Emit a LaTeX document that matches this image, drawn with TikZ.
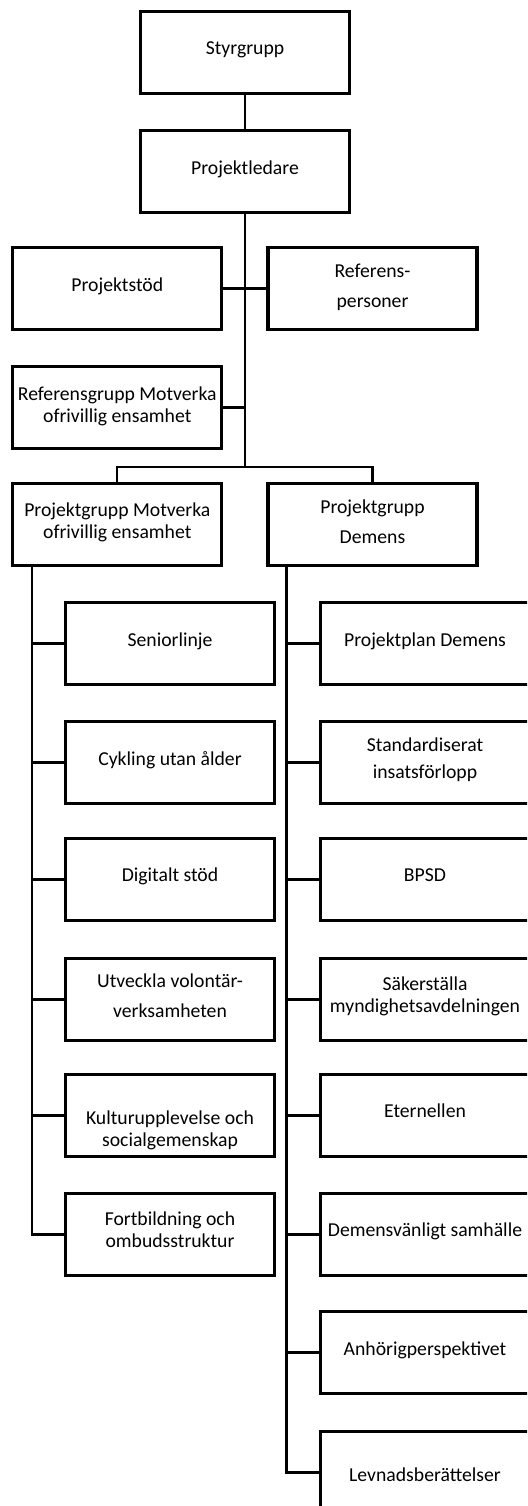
\documentclass[tikz,border=0pt]{standalone}
\usepackage{fontspec}
\setmainfont{Carlito}
\newcommand{\boxtext}[2]{\raisebox{0pt}[\dimexpr10pt+#1pt\relax][\dimexpr10pt-#1pt\relax]{\begin{tabular}[t]{@{}c@{}}#2\end{tabular}}}
\tikzset{
  orgbox/.style={draw=black, line width=3.2pt, minimum width=209pt, minimum height=82pt,
    inner sep=0pt, font=\fontsize{19.7}{22}\selectfont},
  conn/.style={draw=black, line width=2.3pt}
}
\begin{document}
\begin{tikzpicture}[x=1pt,y=-1pt]
\useasboundingbox (0,0) rectangle (527,1506);
\fill[white] (0,0) rectangle (527,1506);
\clip (0,0) rectangle (527,1506);
% top
\node[orgbox] (sg) at (245,52.5) {\boxtext{2}{Styrgrupp}};
\node[orgbox] (pl) at (245,171.5) {\boxtext{3.3}{Projektledare}};
\node[orgbox] (ps) at (117.3,288.5) {\boxtext{3}{Projektstöd}};
\node[orgbox] (rp) at (372.5,288.5) {\boxtext{-12.5}{Referens-\\[8pt]personer}};
\node[orgbox] (rg) at (117.3,407.5) {\boxtext{-7.2}{Referensgrupp Motverka\\ofrivillig ensamhet}};
\node[orgbox] (pgm) at (117.3,524.5) {\boxtext{-8.5}{Projektgrupp Motverka\\ofrivillig ensamhet}};
\node[orgbox] (pgd) at (372.5,524.5) {\boxtext{-12}{Projektgrupp\\[7.5pt]Demens}};
% left column
\node[orgbox] (s1) at (170,643.5) {\boxtext{3}{Seniorlinje}};
\node[orgbox] (s2) at (170,762.5) {\boxtext{3.2}{Cykling utan ålder}};
\node[orgbox] (s3) at (170,879.5) {\boxtext{2.2}{Digitalt stöd}};
\node[orgbox] (s4) at (170,999.5) {\boxtext{-13.6}{Utveckla volontär-\\[8pt]verksamheten}};
\node[orgbox] (s5) at (170,1115.5) {\boxtext{9.2}{Kulturupplevelse och\\socialgemenskap}};
\node[orgbox] (s6) at (170,1234.5) {\boxtext{-9}{Fortbildning och\\ombudsstruktur}};
% right column
\node[orgbox] (d1) at (425,643.5) {\boxtext{3}{Projektplan Demens}};
\node[orgbox] (d2) at (425,762.5) {\boxtext{-12}{Standardiserat\\[5pt]insatsförlopp}};
\node[orgbox] (d3) at (425,879.5) {\boxtext{2.2}{BPSD}};
\node[orgbox] (d4) at (425,999.5) {\boxtext{-9.5}{Säkerställa\\myndighetsavdelningen}};
\node[orgbox] (d5) at (425,1115.5) {\boxtext{2.3}{Eternellen}};
\node[orgbox] (d6) at (425,1234.5) {\boxtext{2}{Demensvänligt samhälle}};
\node[orgbox] (d7) at (425,1352.5) {\boxtext{2.5}{Anhörigperspektivet}};
\node[orgbox] (d8) at (425,1472.5) {\boxtext{9.3}{Levnadsberättelser}};
% connectors
\coordinate (bus) at (245,467);
\draw[conn] (sg) -- (pl);
\draw[conn] (pl) -- (bus);
\draw[conn] (ps) -- (rp);
\draw[conn] (rg.east) -- (rg.east -| bus);
\draw[conn] (pgm.north) |- (bus) -| (pgd.north);
\coordinate (lb) at ([xshift=20.5pt]pgm.south west);
\coordinate (rb) at ([xshift=20pt]pgd.south west);
\draw[conn] (lb) |- (s6.west);
\foreach \i in {1,...,5} \draw[conn] (s\i.west -| lb) -- (s\i.west);
\draw[conn] (rb) |- (d8.west);
\foreach \i in {1,...,7} \draw[conn] (d\i.west -| rb) -- (d\i.west);
\end{tikzpicture}
\end{document}
